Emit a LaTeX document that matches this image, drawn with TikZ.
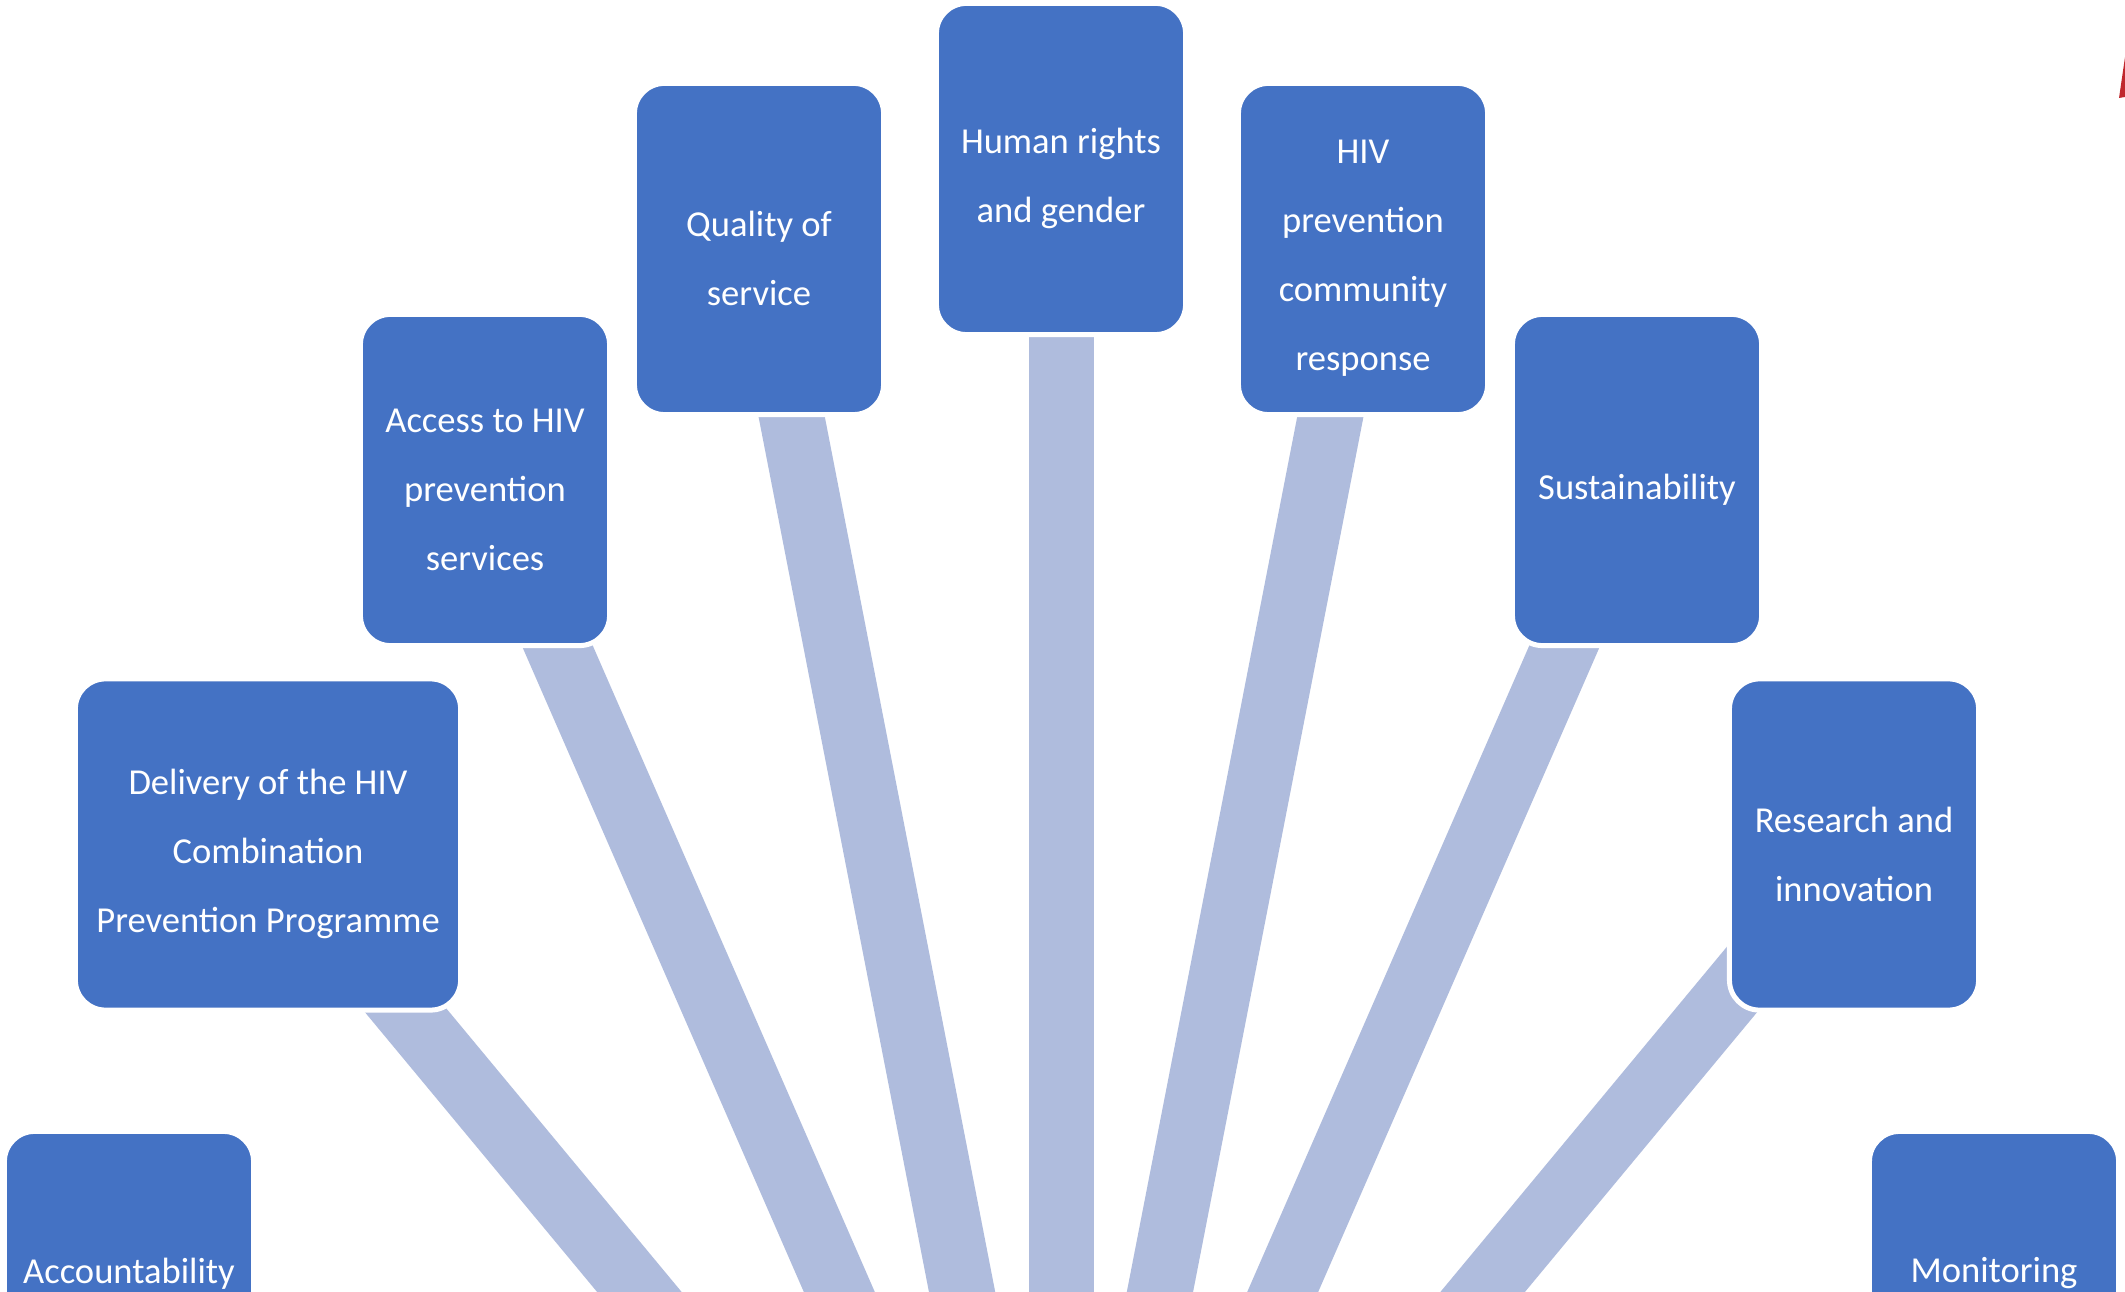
\documentclass[tikz,border=0pt]{standalone}
\usepackage{fontspec}
\setmainfont{Carlito}
\usetikzlibrary{backgrounds}
\definecolor{boxblue}{RGB}{68,114,196}
\definecolor{linkblue}{RGB}{175,188,221}
\definecolor{markred}{RGB}{192,40,45}
\begin{document}
\begin{tikzpicture}[x=0.01cm,y=-0.01cm,
  box/.style={rectangle, rounded corners=0.3cm, fill=boxblue, draw=white,
    line width=0.05cm, minimum width=2.49cm, minimum height=3.31cm,
    inner sep=0pt},
  boxtext/.style={text=white, align=center, inner sep=0pt, yshift=-0.095cm,
    font=\fontsize{10.4}{19.6}\selectfont},
  link/.style={draw=linkblue, line width=0.65cm}]
\useasboundingbox (0,0) rectangle (2125,1292);
\clip (0,0) rectangle (2125,1292);
\coordinate (hub) at (1061,1800);
% boxes
\node[box, label={[boxtext]center:Human rights\\and gender}] (hr) at (1061,169) {};
\node[box, label={[boxtext]center:Quality of\\service}] (qos) at (759,249) {};
\node[box, label={[boxtext]center:HIV\\prevention\\community\\response}] (hivc) at (1363,249) {};
\node[box, label={[boxtext]center:Access to HIV\\prevention\\services}] (acc) at (485,480) {};
\node[box, label={[boxtext]center:Sustainability}] (sus) at (1637,480) {};
\node[box, minimum width=3.85cm, label={[boxtext]center:Delivery of the HIV\\Combination\\Prevention Programme}] (del) at (268,844.5) {};
\node[box, label={[boxtext]center:Research and\\innovation}] (res) at (1854,844.5) {};
\node[box, minimum height=2.79cm, label={[boxtext, yshift=0.07cm]center:Accountability}] (acct) at (129,1271) {};
\node[box, minimum height=2.79cm, label={[boxtext, yshift=0.07cm]center:Monitoring}] (mon) at (1994,1271) {};
% red mark at the top right edge
\fill[markred] (2119,98) -- (2125,57) -- (2125,97) -- cycle;
% connectors behind the boxes
\begin{scope}[on background layer]
  \clip (0,0) rectangle (2125,1292);
  \fill[white] (0,0) rectangle (2125,1292);
  \foreach \n in {hr,qos,hivc,acc,sus,del,res,acct,mon}
    \draw[link] (hub) -- (\n.center);
\end{scope}
\end{tikzpicture}
\end{document}
